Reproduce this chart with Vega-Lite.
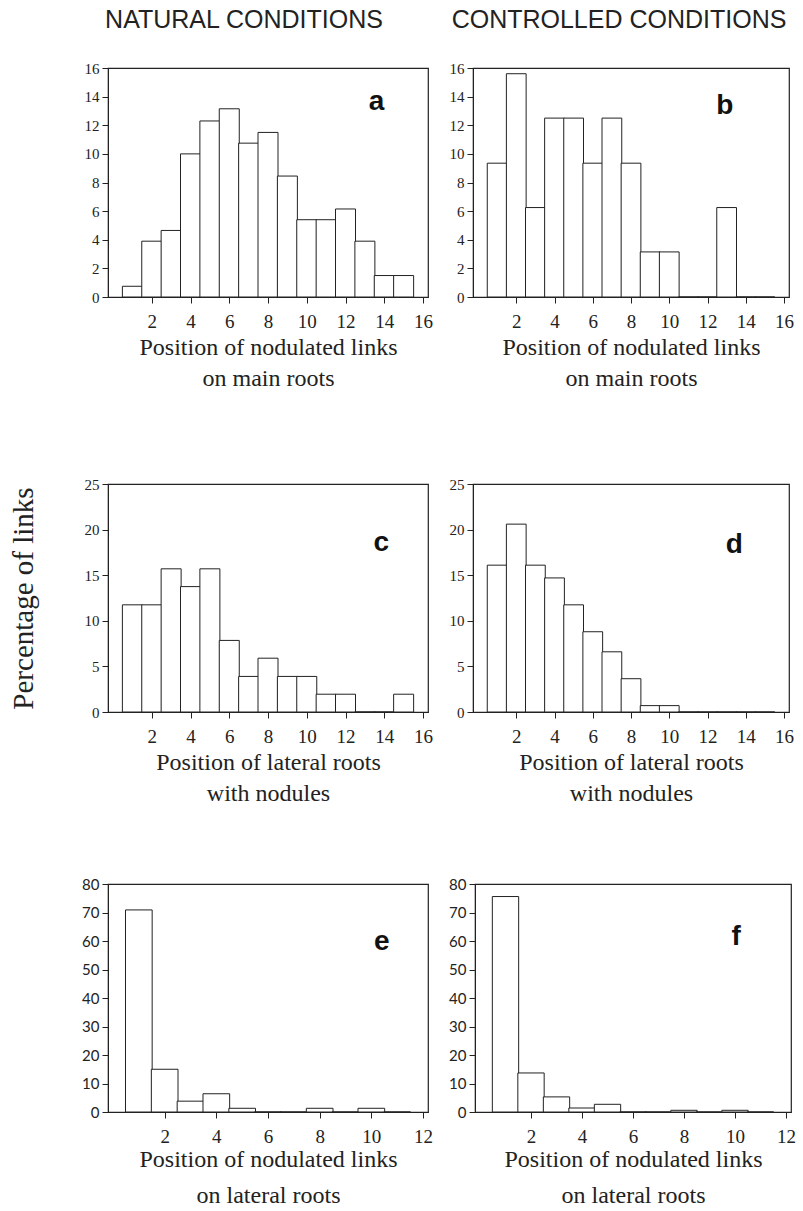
{
  "$schema": "https://vega.github.io/schema/vega-lite/v6.json",
  "background": "white",
  "padding": {"left": 6, "top": 7, "right": 0, "bottom": 0},
  "spacing": 70,
  "config": {
    "view": {"stroke": "#222", "strokeWidth": 1.2},
    "axis": {"domainColor": "#222", "tickColor": "#222", "labelColor": "#222", "titleColor": "#222", "grid": false, "labelFont": "Liberation Serif", "labelFontSize": 15, "titleFont": "Liberation Serif", "titleFontSize": 24, "titleFontWeight": "normal", "tickSize": 6, "labelPadding": 3, "labelOverlap": false, "labelFlush": false, "tickCount": 10, "format": "d"},
    "axisX": {"labelFontSize": 19, "labelPadding": 9},
    "title": {"font": "Liberation Sans", "fontSize": 25, "fontWeight": "normal", "color": "#222"}
  },
  "datasets": {
    "a": [{"pos":1,"pct":0.75},{"pos":2,"pct":3.9},{"pos":3,"pct":4.65},{"pos":4,"pct":10},{"pos":5,"pct":12.3},{"pos":6,"pct":13.15},{"pos":7,"pct":10.75},{"pos":8,"pct":11.5},{"pos":9,"pct":8.45},{"pos":10,"pct":5.4},{"pos":11,"pct":5.4},{"pos":12,"pct":6.15},{"pos":13,"pct":3.9},{"pos":14,"pct":1.5},{"pos":15,"pct":1.5}],
    "b": [{"pos":1,"pct":9.35},{"pos":2,"pct":15.6},{"pos":3,"pct":6.25},{"pos":4,"pct":12.5},{"pos":5,"pct":12.5},{"pos":6,"pct":9.35},{"pos":7,"pct":12.5},{"pos":8,"pct":9.35},{"pos":9,"pct":3.15},{"pos":10,"pct":3.15},{"pos":11,"pct":0},{"pos":12,"pct":0},{"pos":13,"pct":6.25},{"pos":14,"pct":0},{"pos":15,"pct":0}],
    "c": [{"pos":1,"pct":11.75},{"pos":2,"pct":11.75},{"pos":3,"pct":15.7},{"pos":4,"pct":13.75},{"pos":5,"pct":15.7},{"pos":6,"pct":7.85},{"pos":7,"pct":3.9},{"pos":8,"pct":5.9},{"pos":9,"pct":3.9},{"pos":10,"pct":3.9},{"pos":11,"pct":1.95},{"pos":12,"pct":1.95},{"pos":13,"pct":0},{"pos":14,"pct":0},{"pos":15,"pct":1.95}],
    "d": [{"pos":1,"pct":16.1},{"pos":2,"pct":20.6},{"pos":3,"pct":16.1},{"pos":4,"pct":14.7},{"pos":5,"pct":11.75},{"pos":6,"pct":8.8},{"pos":7,"pct":6.6},{"pos":8,"pct":3.65},{"pos":9,"pct":0.7},{"pos":10,"pct":0.7},{"pos":11,"pct":0},{"pos":12,"pct":0},{"pos":13,"pct":0},{"pos":14,"pct":0},{"pos":15,"pct":0}],
    "e": [{"pos":1,"pct":70.9},{"pos":2,"pct":15},{"pos":3,"pct":3.8},{"pos":4,"pct":6.4},{"pos":5,"pct":1.3},{"pos":6,"pct":0},{"pos":7,"pct":0},{"pos":8,"pct":1.3},{"pos":9,"pct":0},{"pos":10,"pct":1.3},{"pos":11,"pct":0}],
    "f": [{"pos":1,"pct":75.6},{"pos":2,"pct":13.7},{"pos":3,"pct":5.3},{"pos":4,"pct":1.4},{"pos":5,"pct":2.7},{"pos":6,"pct":0},{"pos":7,"pct":0},{"pos":8,"pct":0.6},{"pos":9,"pct":0},{"pos":10,"pct":0.6},{"pos":11,"pct":0}]
  },
  "vconcat": [
    {
      "spacing": 14,
      "hconcat": [
        {
          "width": 320, "height": 229,
          "title": {"text": "NATURAL CONDITIONS", "offset": 28, "dx": -24},
          "layer": [
            {"data": {"name": "a"},
             "mark": {"type": "bar", "fill": "white", "stroke": "#222", "strokeWidth": 1, "width": 20},
             "encoding": {
               "x": {"field": "pos", "type": "quantitative", "scale": {"domain": [0, 16], "nice": false, "zero": false}, "axis": {"values": [2,4,6,8,10,12,14,16], "format": "d", "title": ["Position of nodulated links", "on main roots"], "titlePadding": 4, "titleLineHeight": 31}},
               "y": {"field": "pct", "type": "quantitative", "scale": {"domain": [0, 16], "nice": false}, "axis": {"values": [0,2,4,6,8,10,12,14,16], "format": "d", "title": "Percentage of links", "titleOpacity": 0, "titleFontSize": 29, "titlePadding": 46}}
             }},
            {"data": {"values": [{}]},
             "mark": {"type": "text", "text": "a", "font": "Liberation Sans", "fontWeight": "bold", "fontSize": 28, "align": "center", "baseline": "middle", "color": "#111"},
             "encoding": {"x": {"datum": 13.6}, "y": {"datum": 13.6}}}
          ]
        },
        {
          "width": 316, "height": 229,
          "title": {"text": "CONTROLLED CONDITIONS", "offset": 28, "dx": -12},
          "layer": [
            {"data": {"name": "b"},
             "mark": {"type": "bar", "fill": "white", "stroke": "#222", "strokeWidth": 1, "width": 19.75},
             "encoding": {
               "x": {"field": "pos", "type": "quantitative", "scale": {"domain": [0, 16], "nice": false, "zero": false}, "axis": {"values": [2,4,6,8,10,12,14,16], "format": "d", "title": ["Position of nodulated links", "on main roots"], "titlePadding": 4, "titleLineHeight": 31}},
               "y": {"field": "pct", "type": "quantitative", "scale": {"domain": [0, 16], "nice": false}, "axis": {"values": [0,2,4,6,8,10,12,14,16], "format": "d", "title": null}}
             }},
            {"data": {"values": [{}]},
             "mark": {"type": "text", "text": "b", "font": "Liberation Sans", "fontWeight": "bold", "fontSize": 28, "align": "center", "baseline": "middle", "color": "#111"},
             "encoding": {"x": {"datum": 12.9}, "y": {"datum": 13.35}}}
          ]
        }
      ]
    },
    {
      "spacing": 14,
      "hconcat": [
        {
          "width": 320, "height": 228,
          "title": {"text": " ", "fontSize": 10, "offset": 5},
          "layer": [
            {"data": {"name": "c"},
             "mark": {"type": "bar", "fill": "white", "stroke": "#222", "strokeWidth": 1, "width": 20},
             "encoding": {
               "x": {"field": "pos", "type": "quantitative", "scale": {"domain": [0, 16], "nice": false, "zero": false}, "axis": {"values": [2,4,6,8,10,12,14,16], "format": "d", "title": ["Position of lateral roots", "with nodules"], "titlePadding": 4, "titleLineHeight": 31}},
               "y": {"field": "pct", "type": "quantitative", "scale": {"domain": [0, 25], "nice": false}, "axis": {"values": [0,5,10,15,20,25], "format": "d", "title": "Percentage of links", "titleFontSize": 29, "titlePadding": 46}}
             }},
            {"data": {"values": [{}]},
             "mark": {"type": "text", "text": "c", "font": "Liberation Sans", "fontWeight": "bold", "fontSize": 28, "align": "center", "baseline": "middle", "color": "#111"},
             "encoding": {"x": {"datum": 13.85}, "y": {"datum": 18.5}}}
          ]
        },
        {
          "width": 316, "height": 228,
          "title": {"text": " ", "fontSize": 10, "offset": 5},
          "layer": [
            {"data": {"name": "d"},
             "mark": {"type": "bar", "fill": "white", "stroke": "#222", "strokeWidth": 1, "width": 19.75},
             "encoding": {
               "x": {"field": "pos", "type": "quantitative", "scale": {"domain": [0, 16], "nice": false, "zero": false}, "axis": {"values": [2,4,6,8,10,12,14,16], "format": "d", "title": ["Position of lateral roots", "with nodules"], "titlePadding": 4, "titleLineHeight": 31}},
               "y": {"field": "pct", "type": "quantitative", "scale": {"domain": [0, 25], "nice": false}, "axis": {"values": [0,5,10,15,20,25], "format": "d", "title": null}}
             }},
            {"data": {"values": [{}]},
             "mark": {"type": "text", "text": "d", "font": "Liberation Sans", "fontWeight": "bold", "fontSize": 28, "align": "center", "baseline": "middle", "color": "#111"},
             "encoding": {"x": {"datum": 13.4}, "y": {"datum": 18.3}}}
          ]
        }
      ]
    },
    {
      "spacing": 14,
      "hconcat": [
        {
          "width": 320, "height": 228,
          "layer": [
            {"data": {"name": "e"},
             "mark": {"type": "bar", "fill": "white", "stroke": "#222", "strokeWidth": 1, "width": 26.67},
             "encoding": {
               "x": {"field": "pos", "type": "quantitative", "scale": {"domain": [0, 12], "nice": false, "zero": false}, "axis": {"values": [2,4,6,8,10,12], "format": "d", "title": ["Position of nodulated links", "on lateral roots"], "titlePadding": 1, "titleLineHeight": 36}},
               "y": {"field": "pct", "type": "quantitative", "scale": {"domain": [0, 80], "nice": false}, "axis": {"values": [0,10,20,30,40,50,60,70,80], "format": "d", "labelFont": "Lato", "title": "Percentage of links", "titleOpacity": 0, "titleFontSize": 29, "titlePadding": 46}}
             }},
            {"data": {"values": [{}]},
             "mark": {"type": "text", "text": "e", "font": "Liberation Sans", "fontWeight": "bold", "fontSize": 28, "align": "center", "baseline": "middle", "color": "#111"},
             "encoding": {"x": {"datum": 10.4}, "y": {"datum": 59.6}}}
          ]
        },
        {
          "width": 316, "height": 228,
          "layer": [
            {"data": {"name": "f"},
             "mark": {"type": "bar", "fill": "white", "stroke": "#222", "strokeWidth": 1, "width": 26.33},
             "encoding": {
               "x": {"field": "pos", "type": "quantitative", "scale": {"domain": [0, 12], "nice": false, "zero": false}, "axis": {"values": [2,4,6,8,10,12], "format": "d", "title": ["Position of nodulated links", "on lateral roots"], "titlePadding": 1, "titleLineHeight": 36}},
               "y": {"field": "pct", "type": "quantitative", "scale": {"domain": [0, 80], "nice": false}, "axis": {"values": [0,10,20,30,40,50,60,70,80], "format": "d", "labelFont": "Lato", "title": null}}
             }},
            {"data": {"values": [{}]},
             "mark": {"type": "text", "text": "f", "font": "Liberation Sans", "fontWeight": "bold", "fontSize": 28, "align": "center", "baseline": "middle", "color": "#111"},
             "encoding": {"x": {"datum": 10.05}, "y": {"datum": 61.4}}}
          ]
        }
      ]
    }
  ]
}
